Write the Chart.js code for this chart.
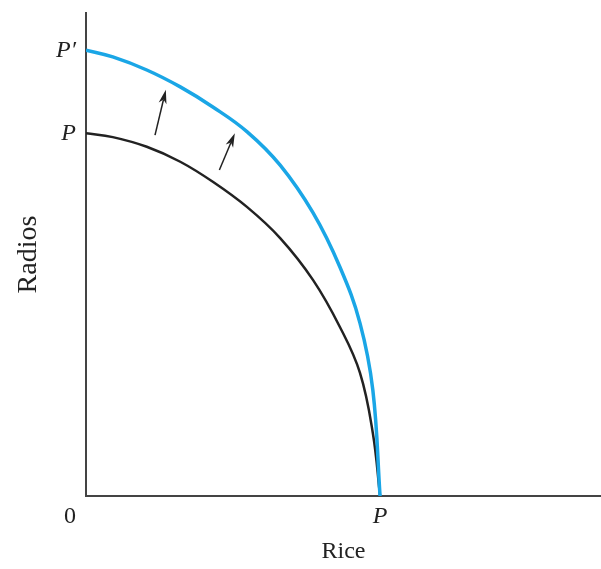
<!DOCTYPE html>
<html>
<head>
<meta charset="utf-8">
<script src="https://cdn.jsdelivr.net/npm/chart.js@4"></script>
<style>
  html, body { margin: 0; padding: 0; background: #fff; }
  #wrap { width: 601px; height: 569px; }
</style>
</head>
<body>
<div id="wrap"><canvas id="ppf"></canvas></div>
<script>
// original frontier P-P (rice, radios)
const oldRice   = [0, 0.52, 1.18, 1.83, 2.47, 3.13, 3.77, 4.41, 4.93, 5.32, 5.57, 5.71];
const oldRadios = [7.51, 7.43, 7.23, 6.92, 6.50, 5.98, 5.34, 4.47, 3.50, 2.55, 1.30, 0];
// shifted frontier P'-P
const newRice   = [0, 0.52, 1.18, 1.83, 2.47, 3.13, 3.77, 4.41, 4.93, 5.32, 5.57, 5.71];
const newRadios = [9.23, 9.09, 8.82, 8.47, 8.05, 7.54, 6.85, 5.86, 4.74, 3.58, 2.19, 0];

const xTickVals = [5.71], xTickLabels = ['P'];
const yTickVals = [7.51, 9.23], yTickLabels = ['P', 'P\u2032'];

// shift arrows: [fromX, fromY, toX, toY]
const arrows = [[1.34, 7.47, 1.55, 8.41], [2.59, 6.75, 2.89, 7.51]];

const serif = '"Liberation Serif", "DejaVu Serif", serif';
const ink = '#222';

function toPts(xs, ys) {
  return xs.map((x, i) => ({x: x, y: ys[i]}));
}

// arrows + the "0" at the origin
const extras = {
  id: 'extras',
  afterDatasetsDraw(chart) {
    const ctx = chart.ctx, xs = chart.scales.x, ys = chart.scales.y;
    ctx.save();
    ctx.strokeStyle = ink; ctx.fillStyle = ink; ctx.lineWidth = 1.5;
    arrows.forEach(a => {
      const x1 = xs.getPixelForValue(a[0]), y1 = ys.getPixelForValue(a[1]);
      const x2 = xs.getPixelForValue(a[2]), y2 = ys.getPixelForValue(a[3]);
      const ang = Math.atan2(y2 - y1, x2 - x1), len = 14, w = 4;
      const bx = x2 - len * Math.cos(ang), by = y2 - len * Math.sin(ang);
      const nx = x2 - (len - 4) * Math.cos(ang), ny = y2 - (len - 4) * Math.sin(ang);
      ctx.beginPath(); ctx.moveTo(x1, y1); ctx.lineTo(nx, ny); ctx.stroke();
      ctx.beginPath();
      ctx.moveTo(x2, y2);
      ctx.lineTo(bx + w * Math.sin(ang), by - w * Math.cos(ang));
      ctx.lineTo(nx, ny);
      ctx.lineTo(bx - w * Math.sin(ang), by + w * Math.cos(ang));
      ctx.closePath(); ctx.fill();
    });
    ctx.font = '24px ' + serif;
    ctx.textAlign = 'center'; ctx.textBaseline = 'middle';
    ctx.fillText('0', xs.left - 16, ys.bottom + 21);
    ctx.restore();
  }
};

new Chart(document.getElementById('ppf'), {
  type: 'scatter',
  data: {
    datasets: [
      { data: toPts(newRice, newRadios), showLine: true, borderColor: '#1aa6e6', borderWidth: 3.5,
        pointRadius: 0, tension: 0.4 },
      { data: toPts(oldRice, oldRadios), showLine: true, borderColor: ink, borderWidth: 2.5,
        pointRadius: 0, tension: 0.4 }
    ]
  },
  options: {
    responsive: true, maintainAspectRatio: false, animation: false,
    layout: { padding: { top: 13, right: 0, left: 0, bottom: 0 } },
    plugins: { legend: { display: false }, tooltip: { enabled: false } },
    scales: {
      x: {
        min: 0, max: 10,
        afterFit: s => { s.height = 73; s.paddingLeft = 0; s.paddingRight = 0; },
        afterBuildTicks: s => { s.ticks = xTickVals.map(v => ({value: v})); },
        ticks: { callback: (v, i) => xTickLabels[i], color: ink, padding: 6,
                 font: { family: serif, size: 24, style: 'italic' } },
        grid: { display: false, drawTicks: false },
        border: { color: '#444', width: 2 },
        title: { display: true, text: 'Rice', color: ink, padding: { top: 0, bottom: 3 },
                 font: { family: serif, size: 24 } }
      },
      y: {
        min: 0, max: 10,
        afterFit: s => { s.width = 86; s.paddingTop = 0; s.paddingBottom = 0; },
        afterBuildTicks: s => { s.ticks = yTickVals.map(v => ({value: v})); },
        ticks: { callback: (v, i) => yTickLabels[i], color: ink, padding: 10,
                 font: { family: serif, size: 24, style: 'italic' } },
        grid: { display: false, drawTicks: false },
        border: { color: '#444', width: 2 },
        title: { display: true, text: 'Radios', color: ink, padding: { top: 12, bottom: 0 },
                 font: { family: serif, size: 28 } }
      }
    }
  },
  plugins: [extras]
});
</script>
</body>
</html>
